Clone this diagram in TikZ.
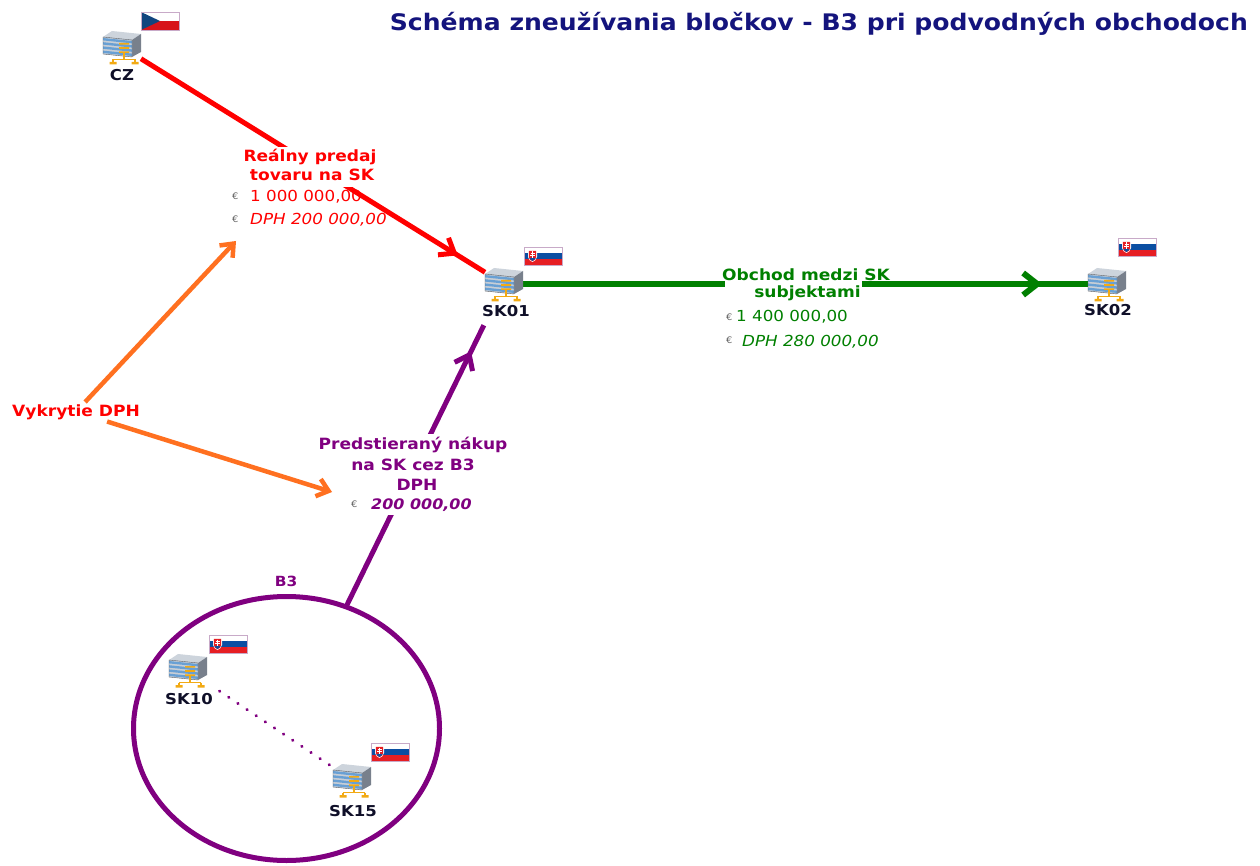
\documentclass[tikz,border=0pt]{standalone}
\usepackage{fontspec}
\setmainfont[FakeStretch=1.1]{DejaVu Sans}
\usetikzlibrary{arrows.meta,shapes.geometric,decorations.markings}
\definecolor{titlec}{RGB}{20,20,125}
\definecolor{cred}{RGB}{255,0,0}
\definecolor{corange}{RGB}{255,112,32}
\definecolor{cgreen}{RGB}{0,128,0}
\definecolor{cpurple}{RGB}{128,0,128}
\definecolor{nodec}{RGB}{15,15,40}
\definecolor{eurc}{RGB}{100,100,100}
\definecolor{srvtop}{RGB}{205,212,220}
\definecolor{srvside}{RGB}{120,128,140}
\definecolor{srvblue}{RGB}{105,160,212}
\definecolor{srvgray}{RGB}{200,206,214}
\definecolor{srvyel}{RGB}{242,170,20}
\definecolor{czred}{RGB}{215,20,26}
\definecolor{czblue}{RGB}{17,69,126}
\definecolor{skblue}{RGB}{11,78,162}
\definecolor{skred}{RGB}{230,30,35}
\definecolor{flagedge}{RGB}{200,170,200}
\newcommand\fsz[1]{\fontsize{#1}{#1}\selectfont}
\tikzset{
  chev/.tip={Straight Barb[length=13pt, width=20pt, line width=5pt]},
  gchev/.tip={Straight Barb[length=14pt, width=22pt, line width=6pt]},
  ochev/.tip={Straight Barb[length=11pt, width=18pt, line width=4.5pt]},
  server/.pic={
    \fill[srvtop] (-19,-10) -- (-10,-16) -- (19,-13) -- (10,-7) -- cycle;
    \fill[srvside] (10,-7) -- (19,-13) -- (19,5) -- (10,10) -- cycle;
    \fill[srvgray] (-19,-10) -- (10,-7) -- (10,10) -- (-19,7) -- cycle;
    \foreach \k in {0,1,2,3} {
      \fill[srvblue] (-19,-9+4.2*\k) -- (10,-6+4.2*\k) -- (10,-3.6+4.2*\k) -- (-19,-6.6+4.2*\k) -- cycle;
    }
    \draw[srvside!70!black, line width=0.4pt] (-19,-10) -- (10,-7) -- (10,10) -- (-19,7) -- cycle;
    \fill[srvyel] (-3,-4) rectangle (7,-2.4) (-3,0.2) rectangle (7,1.8) (-3,4.4) rectangle (7,6);
    \draw[srvyel, line width=1.3pt] (2,6) -- (2,12.5) (-9,12.5) -- (13,12.5) (-9,12.5) -- (-9,15) (13,12.5) -- (13,15);
    \fill[srvyel] (-12.5,15) rectangle (-5.5,17.5) (9.5,15) rectangle (16.5,17.5);
  },
  czflag/.pic={
    \fill[white] (-19,-9) rectangle (19,0);
    \fill[czred] (-19,0) rectangle (19,9);
    \fill[czblue] (-19,-9) -- (0,0) -- (-19,9) -- cycle;
    \draw[flagedge, line width=0.6pt] (-19,-9) rectangle (19,9);
  },
  skflag/.pic={
    \fill[white] (-19,-9) rectangle (19,-3);
    \fill[skblue] (-19,-3) rectangle (19,3);
    \fill[skred] (-19,3) rectangle (19,9);
    \fill[white] (-15,-6) -- (-6,-6) -- (-6,1) .. controls (-6,4) and (-9,5) .. (-10.5,6) .. controls (-12,5) and (-15,4) .. (-15,1) -- cycle;
    \fill[skred] (-14.2,-5.2) -- (-6.8,-5.2) -- (-6.8,1) .. controls (-6.8,3.5) and (-9,4.3) .. (-10.5,5.2) .. controls (-12,4.3) and (-14.2,3.5) .. (-14.2,1) -- cycle;
    \fill[skblue] (-13.6,2.6) .. controls (-12,1) and (-9,1) .. (-7.4,2.6) .. controls (-8.5,4) and (-9.5,4.5) .. (-10.5,5) .. controls (-11.5,4.5) and (-12.5,4) .. (-13.6,2.6) -- cycle;
    \draw[white, line width=0.8pt] (-10.5,-4.5) -- (-10.5,2) (-12.5,-3) -- (-8.5,-3) (-13,-1) -- (-8,-1);
    \draw[flagedge, line width=0.6pt] (-19,-9) rectangle (19,9);
  },
  srv/.style={minimum width=38pt, minimum height=34pt, inner sep=0pt, outer sep=0pt},
  nlbl/.style={font=\fsz{15}\bfseries, text=nodec, inner sep=0pt, anchor=base},
  lbl/.style={font=\fsz{15.5}\bfseries, inner sep=1pt, anchor=base, text height=14pt, text depth=5pt},
  money/.style={font=\fsz{15.2}, inner sep=0pt, anchor=base west},
  eur/.style={font=\fsz{9}, text=eurc, inner sep=0pt, anchor=base west},
  redline/.style={draw=cred, line width=5pt,
    postaction={decorate, decoration={markings, mark=at position -32pt with {\arrow[cred]{chev}}}}},
  greenline/.style={draw=cgreen, line width=6pt,
    postaction={decorate, decoration={markings, mark=at position -46pt with {\arrow[cgreen]{gchev}}}}},
  purpleline/.style={draw=cpurple, line width=5pt, shorten >=27pt,
    postaction={decorate, decoration={markings, mark=at position -56pt with {\arrow[cpurple]{chev}}}}},
  orangeline/.style={draw=corange, line width=4.5pt, -ochev},
  dotline/.style={draw=cpurple, line width=3pt, line cap=round, dash pattern=on 0.5pt off 10.5pt, shorten <=15pt}
}
\begin{document}
\begin{tikzpicture}[x=1pt,y=-1pt]
\useasboundingbox (0,0) rectangle (1260,866);
\fill[white] (0,0) rectangle (1260,866);

% title
\node[anchor=base east, font=\fsz{22.8}\bfseries, text=titlec, inner sep=0pt] (title) at (1248,31) {Schéma zneužívania bločkov - B3 pri podvodných obchodoch};

% server nodes
\node[srv] (cz) at (122,47) {};
\node[srv] (sk01) at (504,284) {};
\node[srv] (sk02) at (1107,284) {};
\node[srv] (sk10) at (188,670) {};
\node[srv] (sk15) at (352,780) {};

% B3 group
\node[ellipse, draw=cpurple, line width=5pt, minimum width=306pt, minimum height=264pt, inner sep=0pt, outer sep=0pt] (b3) at (286.5,728.5) {};
\node[font=\fsz{14}\bfseries, text=cpurple, inner sep=0pt, anchor=base] (b3lbl) at (286,586) {B3};

% Vykrytie DPH
\node[font=\fsz{15.5}\bfseries, text=cred, inner sep=2pt, anchor=base] (vyk) at (76,416) {Vykrytie DPH};
\coordinate (o1) at (236,241);
\coordinate (o2) at (332,492);

% connectors
\draw[redline] (cz) -- (sk01);
\draw[greenline] (sk01) -- (sk02);
\draw[purpleline] (b3) -- (sk01);
\draw[orangeline] (vyk) -- (o1);
\draw[orangeline] (vyk) -- (o2);
\draw[dotline] (sk10) -- (sk15);

% red label
\node[lbl, text=cred, fill=white] (r1) at (310,162) {Reálny predaj};
\node[lbl, text=cred, fill=white] (r2) at (312,181) {tovaru na SK};
\node[eur] (re1) at (232,200) {€};
\node[money, text=cred] (rm1) at (250,202) {1 000 000,00};
\node[eur] (re2) at (232,223) {€};
\node[money, text=cred, font=\fsz{15.2}\itshape] (rm2) at (250,225) {DPH 200 000,00};

% green label
\node[lbl, text=cgreen, fill=white, text height=18pt] (g2) at (793.5,298) {\hspace*{28pt}subjektami};
\node[lbl, text=cgreen] (g1) at (806,281) {Obchod medzi SK};
\node[eur] (ge1) at (726,320) {€};
\node[money, text=cgreen] (gm1) at (736,322) {1 400 000,00};
\node[eur] (ge2) at (726,344) {€};
\node[money, text=cgreen, font=\fsz{15.2}\itshape] (gm2) at (742,346) {DPH 280 000,00};

% purple label
\node[lbl, text=cpurple, fill=white] (p1) at (413,449) {Predstieraný nákup};
\node[lbl, text=cpurple, fill=white] (p2) at (413,470) {na SK cez B3};
\node[lbl, text=cpurple, fill=white] (p3) at (417,490) {DPH};
\node[eur] (pe1) at (351,507) {€};
\node[money, text=cpurple, font=\fsz{14.5}\bfseries\itshape, fill=white, inner sep=1pt, text height=14pt, text depth=5pt] (pm1) at (370,509) {200 000,00};

% icons
\pic at (cz) {server};
\pic at (sk01) {server};
\pic at (sk02) {server};
\pic at (sk10) {server};
\pic at (sk15) {server};
\pic at (160,21) {czflag};
\pic at (543,256) {skflag};
\pic at (1137,247) {skflag};
\pic at (228,644) {skflag};
\pic at (390,752) {skflag};

% node names
\node[nlbl] (czl) at (122,81) {CZ};
\node[nlbl] (sk01l) at (506,316.5) {SK01};
\node[nlbl] (sk02l) at (1108,316) {SK02};
\node[nlbl] (sk10l) at (189,704) {SK10};
\node[nlbl] (sk15l) at (353,816) {SK15};
\end{tikzpicture}
\end{document}
